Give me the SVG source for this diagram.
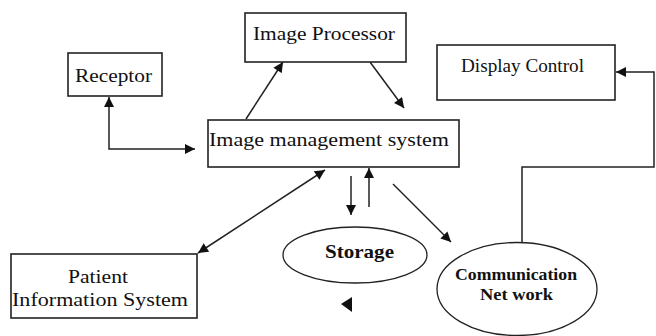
<svg xmlns="http://www.w3.org/2000/svg" width="656" height="336" viewBox="0 0 656 336">
<defs>
<marker id="ah" viewBox="0 0 10 10" refX="10" refY="5" markerWidth="11" markerHeight="10" markerUnits="userSpaceOnUse" orient="auto-start-reverse">
<path d="M0,0 L10,5 L0,10 z" fill="#111"/>
</marker>
<style>
.box{fill:#fff;stroke:#222;stroke-width:1.6}
.ell{fill:#fff;stroke:#222;stroke-width:1.3}
.t{font-family:"Liberation Serif","Times New Roman",serif;font-size:19px;fill:#111}
.b{font-weight:bold}
.c{fill:none;stroke:#222;stroke-width:1.5}
</style>
</defs>
<rect width="656" height="336" fill="#fff"/>
<g id="connectors">
<path class="c" d="M109,97 L109,149 L195,149" marker-start="url(#ah)" marker-end="url(#ah)"/>
<path class="c" d="M246,119 L283,62" marker-end="url(#ah)"/>
<path class="c" d="M370,62 L404,108" marker-end="url(#ah)"/>
<path class="c" d="M325,170 L198,253" marker-start="url(#ah)" marker-end="url(#ah)"/>
<path class="c" d="M351,176 L351,215" marker-end="url(#ah)"/>
<path class="c" d="M369,207 L369,168" marker-end="url(#ah)"/>
<path class="c" d="M393,184 L451,242" marker-end="url(#ah)"/>
<path class="c" d="M522,242 L522,167 L654,167 L654,72 L616,72" marker-end="url(#ah)"/>
<polygon points="341,304 352,297 352,312" fill="#111"/>
</g>
<g id="receptor">
<rect class="box" x="68" y="53" width="94" height="43"/>
<text class="t" x="75" y="82" textLength="77" lengthAdjust="spacingAndGlyphs">Receptor</text>
</g>
<g id="image-processor">
<rect class="box" x="245" y="13" width="161" height="49"/>
<text class="t" x="253" y="40" textLength="142" lengthAdjust="spacingAndGlyphs">Image Processor</text>
</g>
<g id="image-management-system">
<rect class="box" x="208" y="120" width="251" height="47"/>
<text class="t" x="209" y="146" textLength="240" lengthAdjust="spacingAndGlyphs">Image management system</text>
</g>
<g id="display-control">
<rect class="box" x="437" y="45" width="178" height="55"/>
<text class="t" x="461" y="72" textLength="123" lengthAdjust="spacingAndGlyphs">Display Control</text>
</g>
<g id="patient-information-system">
<rect class="box" x="11" y="254" width="186" height="64"/>
<text class="t" x="68" y="283" textLength="60" lengthAdjust="spacingAndGlyphs">Patient</text>
<text class="t" x="12" y="306" textLength="176" lengthAdjust="spacingAndGlyphs">Information System</text>
</g>
<g id="storage">
<ellipse class="ell" cx="355" cy="255" rx="72" ry="28"/>
<text class="t b" x="325" y="258" textLength="69" lengthAdjust="spacingAndGlyphs">Storage</text>
</g>
<g id="communication-network">
<ellipse class="ell" cx="517" cy="289" rx="80" ry="46.5"/>
<text class="t b" x="455" y="280" font-size="16" style="font-size:16px" textLength="122" lengthAdjust="spacingAndGlyphs">Communication</text>
<text class="t b" x="480" y="300" style="font-size:16px" textLength="73" lengthAdjust="spacingAndGlyphs">Net work</text>
</g>
</svg>
